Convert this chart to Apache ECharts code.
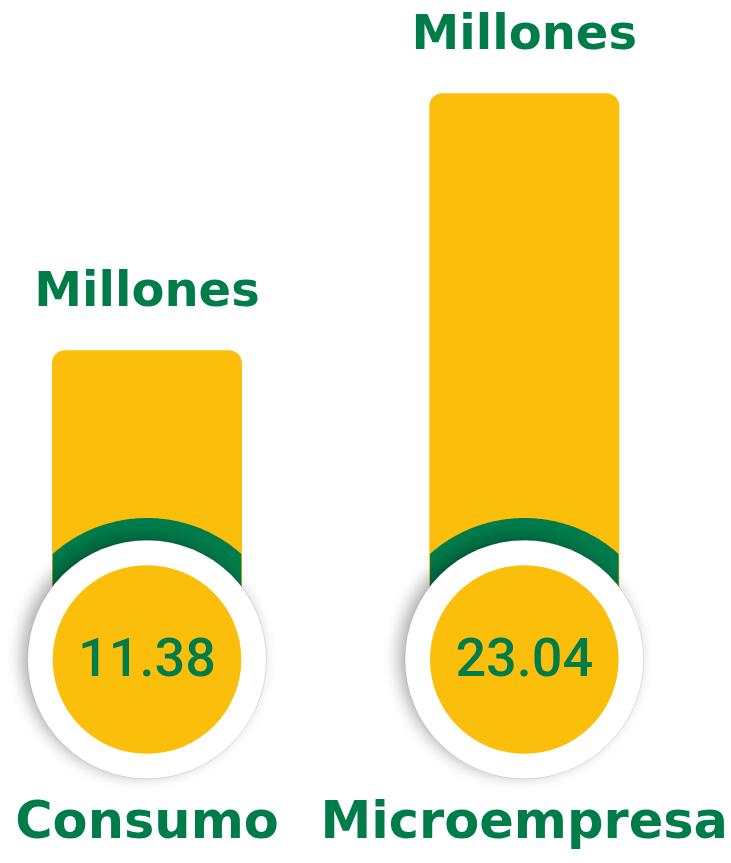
<!DOCTYPE html>
<html>
<head>
<meta charset="utf-8">
<script src="https://cdn.jsdelivr.net/npm/echarts@6/dist/echarts.min.js"></script>
<style>
html,body{margin:0;padding:0;background:#fff;}
#chart{width:731px;height:863px;}
</style>
</head>
<body>
<div id="chart"></div>
<script>
const categories = ['Consumo', 'Microempresa'];
const values = [11.38, 23.04];
const unitLabel = 'Millones';

const YELLOW = '#FABE0B';
const GREEN = '#007C4B';
const TITLE_FONT = '"DejaVu Sans", sans-serif';

const chart = echarts.init(document.getElementById('chart'), null, {renderer: 'canvas'});

function renderBadge(params, api) {
  const idx = api.value(0);
  const val = api.value(1);
  const base = api.coord([idx, 0]);
  const halfW = api.size([1, 0])[0] / 4;
  const cx = base[0];
  const cy = base[1] + halfW * 0.62;
  const rYellow = halfW;
  const rWhite = halfW * 1.265;
  const rGreen = halfW * 1.5;
  // green arc clipped to bar column
  const pts = [];
  const a0 = Math.asin(halfW / rGreen);
  const n = 60;
  for (let k = 0; k <= n; k++) {
    const a = -a0 + (2 * a0 * k) / n;
    pts.push([cx + rGreen * Math.sin(a), cy - rGreen * Math.cos(a)]);
  }
  pts.push([cx + halfW, cy]);
  pts.push([cx - halfW, cy]);
  return {
    type: 'group',
    children: [
      { type: 'polygon', shape: { points: pts }, style: { fill: GREEN } },
      { type: 'circle', shape: { cx: cx, cy: cy, r: rWhite },
        style: { fill: '#ffffff', stroke: 'rgba(0,0,0,0.10)', lineWidth: 1,
                 shadowBlur: 16, shadowColor: 'rgba(0,0,0,0.32)', shadowOffsetX: -6, shadowOffsetY: -3 } },
      { type: 'circle', shape: { cx: cx, cy: cy, r: rYellow }, style: { fill: YELLOW } },
      { type: 'text', style: {
          x: cx, y: cy + 3, text: val.toFixed(2), fill: GREEN,
          font: '500 54px Roboto, "Open Sans", sans-serif', align: 'center', verticalAlign: 'middle'
        } }
    ]
  };
}

chart.setOption({
  animation: false,
  backgroundColor: '#ffffff',
  grid: { left: 147, right: 204, top: 50, bottom: 262, containLabel: false },
  xAxis: {
    type: 'category',
    data: categories,
    boundaryGap: false,
    axisLine: { show: false },
    axisTick: { show: false },
    splitLine: { show: false },
    axisLabel: {
      interval: 0,
      margin: 198,
      color: GREEN,
      fontFamily: TITLE_FONT,
      fontWeight: 'bold',
      fontSize: 51,
      lineHeight: 51,
      verticalAlign: 'top'
    }
  },
  yAxis: { type: 'value', min: 0, max: 25, show: false, splitLine: { show: false } },
  series: [
    {
      type: 'bar',
      data: values,
      barWidth: 190,
      itemStyle: { color: YELLOW, borderRadius: [13, 13, 0, 0] },
      label: {
        show: true,
        position: 'top',
        distance: 33,
        formatter: unitLabel,
        color: GREEN,
        fontFamily: TITLE_FONT,
        fontWeight: 'bold',
        fontSize: 48,
        lineHeight: 48
      },
      z: 1
    },
    {
      type: 'custom',
      clip: false,
      z: 5,
      renderItem: renderBadge,
      data: categories.map((c, i) => [i, values[i]])
    }
  ]
});
</script>
</body>
</html>
